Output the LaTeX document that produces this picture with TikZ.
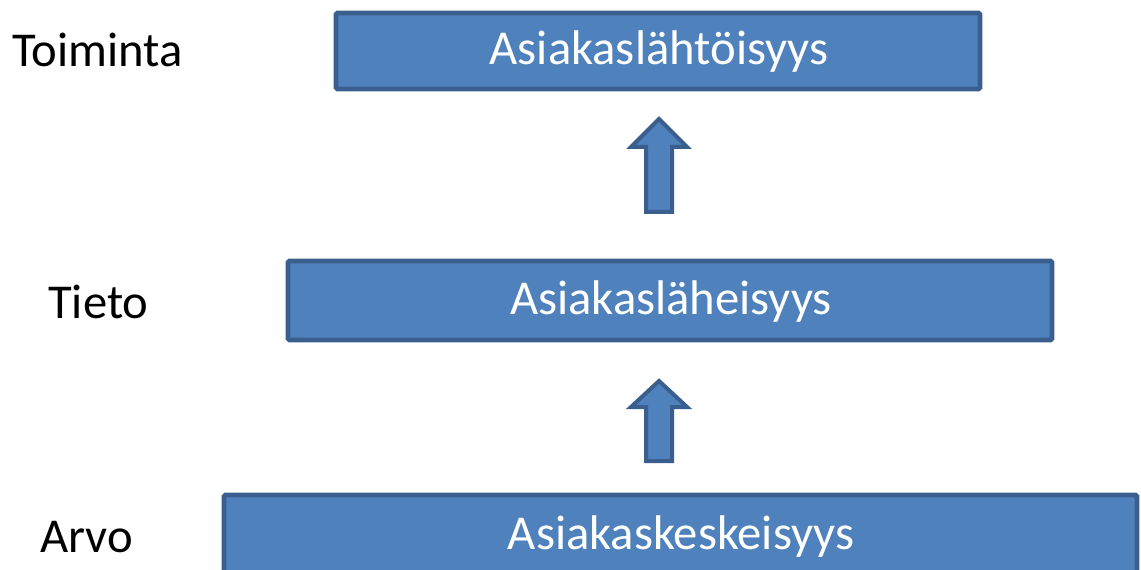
\documentclass[tikz,border=0pt]{standalone}
\usepackage{fontspec}
\setmainfont{Carlito}
\definecolor{boxfill}{HTML}{4F81BD}
\definecolor{boxline}{HTML}{3A5F8E}
\begin{document}
\begin{tikzpicture}[x=0.75pt,y=-0.75pt,
  bar/.style={draw=boxline,fill=boxfill,line width=3.5pt,rounded corners=1pt},
  bartext/.style={text=white,font=\fontsize{36.5}{40}\selectfont,anchor=center},
  lbl/.style={text=black,font=\fontsize{36.5}{40}\selectfont,anchor=west,inner sep=0pt},
  uparrow/.style={draw=boxline,fill=boxfill,line width=3pt,line join=miter}]
\useasboundingbox (0,0) rectangle (1141,570);
\begin{scope}
\clip (0,0) rectangle (1141,570);
\draw[bar] (336,13) rectangle (980,89);
\node[bartext] (t1) at (659,52) {Asiakaslähtöisyys};
\draw[bar] (288,261) rectangle (1052,340);
\node[bartext] (t2) at (671,302) {Asiakasläheisyys};
\draw[bar] (224,495) rectangle (1137,590);
\node[bartext] (t3) at (681,537) {Asiakaskeskeisyys};
\draw[uparrow] (646,212) -- (646,147) -- (631,147) -- (659,119) -- (687,147) -- (672,147) -- (672,212) -- cycle;
\draw[uparrow] (646,461) -- (646,407) -- (631,407) -- (659,381) -- (687,407) -- (672,407) -- (672,461) -- cycle;
\end{scope}
\node[lbl] (l1) at (12,50) {Toiminta};
\node[lbl] (l2) at (48,302) {Tieto};
\node[lbl] (l3) at (40,537) {Arvo};
\end{tikzpicture}
\end{document}
